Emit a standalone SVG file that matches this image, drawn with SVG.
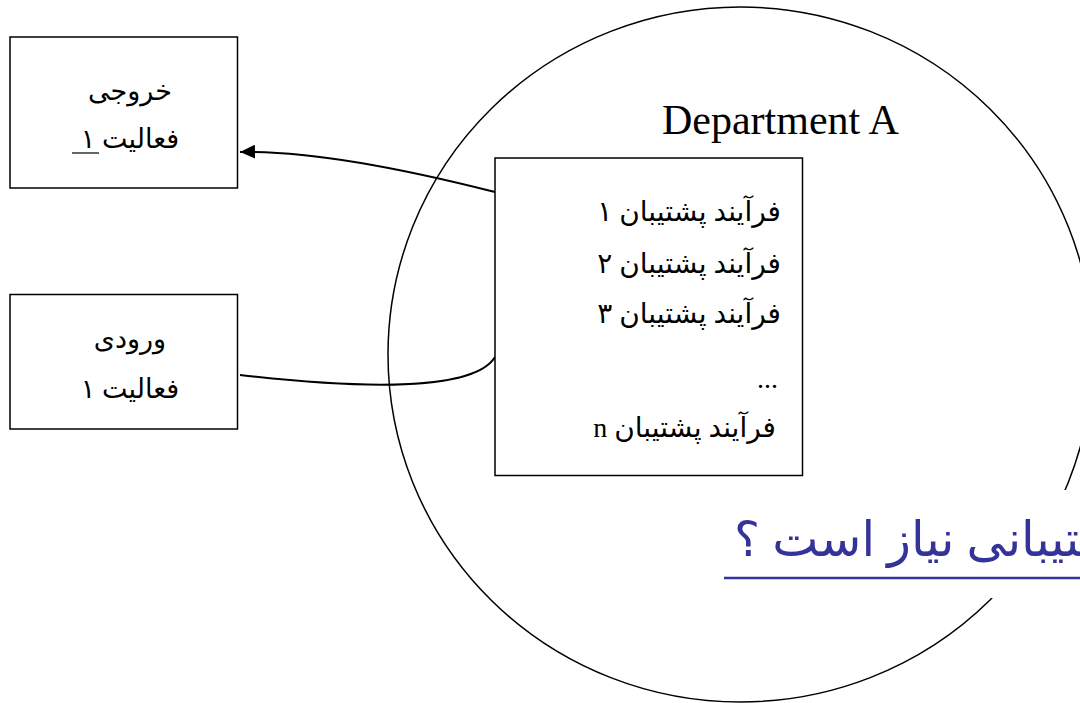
<svg xmlns="http://www.w3.org/2000/svg" width="1080" height="703" viewBox="0 0 1080 703">
  <defs>
    <marker id="arrow" viewBox="0 0 15 14" refX="15" refY="7" markerWidth="15" markerHeight="14" markerUnits="userSpaceOnUse" orient="auto">
      <path d="M0,0 L15,7 L0,14 z" fill="#000"/>
    </marker>
    <style>
      .box { fill: #fff; stroke: #000; stroke-width: 1.5; }
      .edge { fill: none; stroke: #000; stroke-width: 2; }
      .fa { font-family: "Liberation Serif", "DejaVu Sans", serif; fill: #000; direction: rtl; }
      .small { font-size: 27px; }
      .list { font-size: 28px; }
      .latin { font-family: "Liberation Serif", serif; font-size: 42px; fill: #000; }
      .question { font-family: "Liberation Serif", "DejaVu Sans", serif; font-size: 49px; fill: #333399; direction: rtl; }
    </style>
  </defs>

  <rect width="1080" height="703" fill="#fff"/>

  <!-- department boundary -->
  <g id="department">
    <ellipse cx="740.5" cy="354.5" rx="352.5" ry="347.5" fill="none" stroke="#000" stroke-width="1.5"/>
    <text class="latin" x="662" y="134">Department A</text>
  </g>

  <!-- connectors -->
  <g id="connectors">
    <path class="edge" d="M495,192 Q330,150 240,152" marker-end="url(#arrow)"/>
    <path class="edge" d="M495,357 C475,390 370,390 240,375"/>
  </g>

  <g id="output-box">
    <rect class="box" x="10" y="37" width="227.5" height="151"/>
    <text class="fa small" x="130" y="100" text-anchor="middle">خروجی</text>
    <text class="fa small" x="130" y="148" text-anchor="middle">فعالیت ۱</text>
    <line x1="72" y1="153" x2="99" y2="153" stroke="#000" stroke-width="1.2"/>
  </g>

  <g id="input-box">
    <rect class="box" x="10" y="294.5" width="227.5" height="134.5"/>
    <text class="fa small" x="130" y="348" text-anchor="middle">ورودی</text>
    <text class="fa small" x="130" y="398" text-anchor="middle">فعالیت ۱</text>
  </g>

  <g id="support-processes">
    <rect class="box" x="495" y="158" width="307.5" height="317.5"/>
    <text class="fa list" x="781" y="221" text-anchor="start">فرآیند پشتیبان ۱</text>
    <text class="fa list" x="781" y="273" text-anchor="start">فرآیند پشتیبان ۲</text>
    <text class="fa list" x="781" y="323" text-anchor="start">فرآیند پشتیبان ۳</text>
    <text class="fa list" x="778" y="388" text-anchor="start">...</text>
    <text class="fa list" x="776" y="437" text-anchor="start">فرآیند پشتیبان n</text>
  </g>

  <!-- question caption on a white backing -->
  <g id="question">
    <rect x="716" y="490" width="364" height="108" fill="#fff"/>
    <text class="question" x="734" y="556" text-anchor="end">&#x200D;تیبانی نیاز است ؟</text>
    <line x1="724" y1="578" x2="1080" y2="578" stroke="#333399" stroke-width="2.5"/>
  </g>
</svg>
